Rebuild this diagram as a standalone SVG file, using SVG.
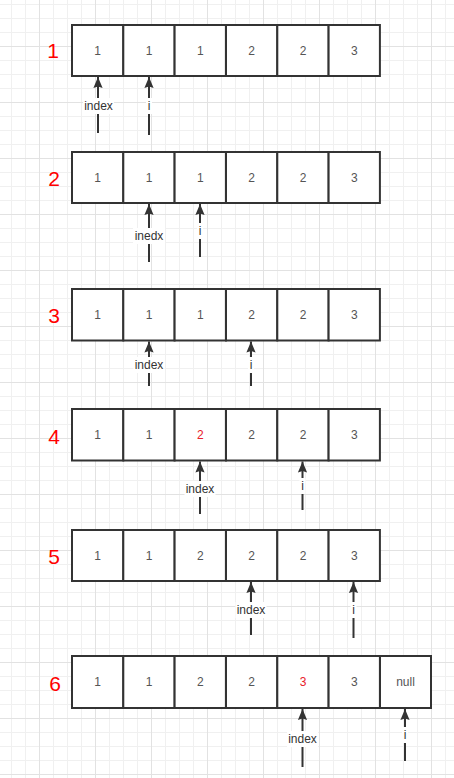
<svg xmlns="http://www.w3.org/2000/svg" width="454" height="778" viewBox="0 0 454 778">
<defs>
<pattern id="grid" patternUnits="userSpaceOnUse" x="39" y="46" width="56" height="56">
<path d="M14.5 0V56M28.5 0V56M42.5 0V56M0 14.5H56M0 28.5H56M0 42.5H56" stroke="#f0f0f0" stroke-width="1" fill="none"/>
<path d="M0.5 0V56M0 0.5H56" stroke="#e2e2e2" stroke-width="1" fill="none"/>
</pattern>
<marker id="ah" markerUnits="userSpaceOnUse" markerWidth="14" markerHeight="12" viewBox="-12 -6 14 12" refX="0" refY="0" orient="auto">
<path d="M0 0L-11 -4.6L-9.5 0L-11 4.6Z" fill="#333"/>
</marker>
<style>
.cell{fill:#fff;stroke:#333;stroke-width:2}
.v{font-family:"Liberation Sans",Arial,sans-serif;font-size:12px;fill:#555;text-anchor:middle;dominant-baseline:central}
.red{fill:#e8202a}
.num{font-family:"Liberation Sans",Arial,sans-serif;font-size:21px;fill:#ff0000;text-anchor:middle;dominant-baseline:central}
.arr{stroke:#333;stroke-width:2;fill:none;marker-end:url(#ah)}
.lbg{fill:#fff}
.lt{font-family:"Liberation Sans",Arial,sans-serif;font-size:12px;fill:#333;text-anchor:middle;dominant-baseline:central}
</style>
</defs>
<rect x="0" y="0" width="454" height="778" fill="#fff"/>
<rect x="0" y="0" width="454" height="778" fill="url(#grid)"/>

<g id="row1">
<text class="num" x="53" y="50">1</text>
<rect class="cell" x="72" y="25" width="51.3" height="51"/><text class="v" x="97.6" y="50.5">1</text>
<rect class="cell" x="123.3" y="25" width="51.3" height="51"/><text class="v" x="149" y="50.5">1</text>
<rect class="cell" x="174.6" y="25" width="51.3" height="51"/><text class="v" x="200.3" y="50.5">1</text>
<rect class="cell" x="226" y="25" width="51.3" height="51"/><text class="v" x="251.6" y="50.5">2</text>
<rect class="cell" x="277.3" y="25" width="51.3" height="51"/><text class="v" x="303" y="50.5">2</text>
<rect class="cell" x="328.6" y="25" width="51.3" height="51"/><text class="v" x="354.3" y="50.5">3</text>
</g>
<g id="row2">
<text class="num" x="54" y="178">2</text>
<rect class="cell" x="72" y="152" width="51.3" height="51"/><text class="v" x="97.6" y="177.5">1</text>
<rect class="cell" x="123.3" y="152" width="51.3" height="51"/><text class="v" x="149" y="177.5">1</text>
<rect class="cell" x="174.6" y="152" width="51.3" height="51"/><text class="v" x="200.3" y="177.5">1</text>
<rect class="cell" x="226" y="152" width="51.3" height="51"/><text class="v" x="251.6" y="177.5">2</text>
<rect class="cell" x="277.3" y="152" width="51.3" height="51"/><text class="v" x="303" y="177.5">2</text>
<rect class="cell" x="328.6" y="152" width="51.3" height="51"/><text class="v" x="354.3" y="177.5">3</text>
</g>
<g id="row3">
<text class="num" x="54" y="315">3</text>
<rect class="cell" x="72" y="289" width="51.3" height="51.5"/><text class="v" x="97.6" y="314.5">1</text>
<rect class="cell" x="123.3" y="289" width="51.3" height="51.5"/><text class="v" x="149" y="314.5">1</text>
<rect class="cell" x="174.6" y="289" width="51.3" height="51.5"/><text class="v" x="200.3" y="314.5">1</text>
<rect class="cell" x="226" y="289" width="51.3" height="51.5"/><text class="v" x="251.6" y="314.5">2</text>
<rect class="cell" x="277.3" y="289" width="51.3" height="51.5"/><text class="v" x="303" y="314.5">2</text>
<rect class="cell" x="328.6" y="289" width="51.3" height="51.5"/><text class="v" x="354.3" y="314.5">3</text>
</g>
<g id="row4">
<text class="num" x="54" y="436">4</text>
<rect class="cell" x="72" y="409" width="51.3" height="51.5"/><text class="v" x="97.6" y="435">1</text>
<rect class="cell" x="123.3" y="409" width="51.3" height="51.5"/><text class="v" x="149" y="435">1</text>
<rect class="cell" x="174.6" y="409" width="51.3" height="51.5"/><text class="v red" x="200.3" y="435">2</text>
<rect class="cell" x="226" y="409" width="51.3" height="51.5"/><text class="v" x="251.6" y="435">2</text>
<rect class="cell" x="277.3" y="409" width="51.3" height="51.5"/><text class="v" x="303" y="435">2</text>
<rect class="cell" x="328.6" y="409" width="51.3" height="51.5"/><text class="v" x="354.3" y="435">3</text>
</g>
<g id="row5">
<text class="num" x="54" y="556">5</text>
<rect class="cell" x="72" y="530" width="51.3" height="51"/><text class="v" x="97.6" y="555.5">1</text>
<rect class="cell" x="123.3" y="530" width="51.3" height="51"/><text class="v" x="149" y="555.5">1</text>
<rect class="cell" x="174.6" y="530" width="51.3" height="51"/><text class="v" x="200.3" y="555.5">2</text>
<rect class="cell" x="226" y="530" width="51.3" height="51"/><text class="v" x="251.6" y="555.5">2</text>
<rect class="cell" x="277.3" y="530" width="51.3" height="51"/><text class="v" x="303" y="555.5">2</text>
<rect class="cell" x="328.6" y="530" width="51.3" height="51"/><text class="v" x="354.3" y="555.5">3</text>
</g>
<g id="row6">
<text class="num" x="55" y="683">6</text>
<rect class="cell" x="72" y="656" width="51.3" height="52"/><text class="v" x="97.6" y="682">1</text>
<rect class="cell" x="123.3" y="656" width="51.3" height="52"/><text class="v" x="149" y="682">1</text>
<rect class="cell" x="174.6" y="656" width="51.3" height="52"/><text class="v" x="200.3" y="682">2</text>
<rect class="cell" x="226" y="656" width="51.3" height="52"/><text class="v" x="251.6" y="682">2</text>
<rect class="cell" x="277.3" y="656" width="51.3" height="52"/><text class="v red" x="303" y="682">3</text>
<rect class="cell" x="328.6" y="656" width="51.3" height="52"/><text class="v" x="354.3" y="682">3</text>
<rect class="cell" x="380" y="656" width="51" height="52"/><text class="v" x="405.5" y="682">null</text>
</g>

<g id="connectors">
<path class="arr" d="M98 133V77"/>
<path class="arr" d="M149 135V77"/>
<path class="arr" d="M149 262V204"/>
<path class="arr" d="M200 257V204"/>
<path class="arr" d="M149 386V341.5"/>
<path class="arr" d="M251 386V341.5"/>
<path class="arr" d="M200 514V461.5"/>
<path class="arr" d="M302.5 510V461.5"/>
<path class="arr" d="M251 635V582"/>
<path class="arr" d="M353.5 638V582"/>
<path class="arr" d="M302.5 767V709"/>
<path class="arr" d="M405 761V709"/>
</g>

<g id="labels">
<rect class="lbg" x="83" y="98" width="31" height="16"/><text class="lt" x="98.5" y="106">index</text>
<rect class="lbg" x="146" y="98" width="6" height="16"/><text class="lt" x="149" y="106">i</text>
<rect class="lbg" x="133" y="228" width="32" height="16"/><text class="lt" x="149" y="236">inedx</text>
<rect class="lbg" x="197" y="223" width="6" height="16"/><text class="lt" x="200" y="231">i</text>
<rect class="lbg" x="133.5" y="357" width="31" height="16"/><text class="lt" x="149" y="365">index</text>
<rect class="lbg" x="248" y="357" width="6" height="16"/><text class="lt" x="251" y="365">i</text>
<rect class="lbg" x="184.5" y="481" width="31" height="16"/><text class="lt" x="200" y="489">index</text>
<rect class="lbg" x="299.5" y="478" width="6" height="16"/><text class="lt" x="302.5" y="486">i</text>
<rect class="lbg" x="235.5" y="602" width="31" height="16"/><text class="lt" x="251" y="610">index</text>
<rect class="lbg" x="350.5" y="602" width="6" height="16"/><text class="lt" x="353.5" y="610">i</text>
<rect class="lbg" x="287" y="731" width="31" height="16"/><text class="lt" x="302.5" y="739">index</text>
<rect class="lbg" x="402" y="727" width="6" height="16"/><text class="lt" x="405" y="735">i</text>
</g>
</svg>
